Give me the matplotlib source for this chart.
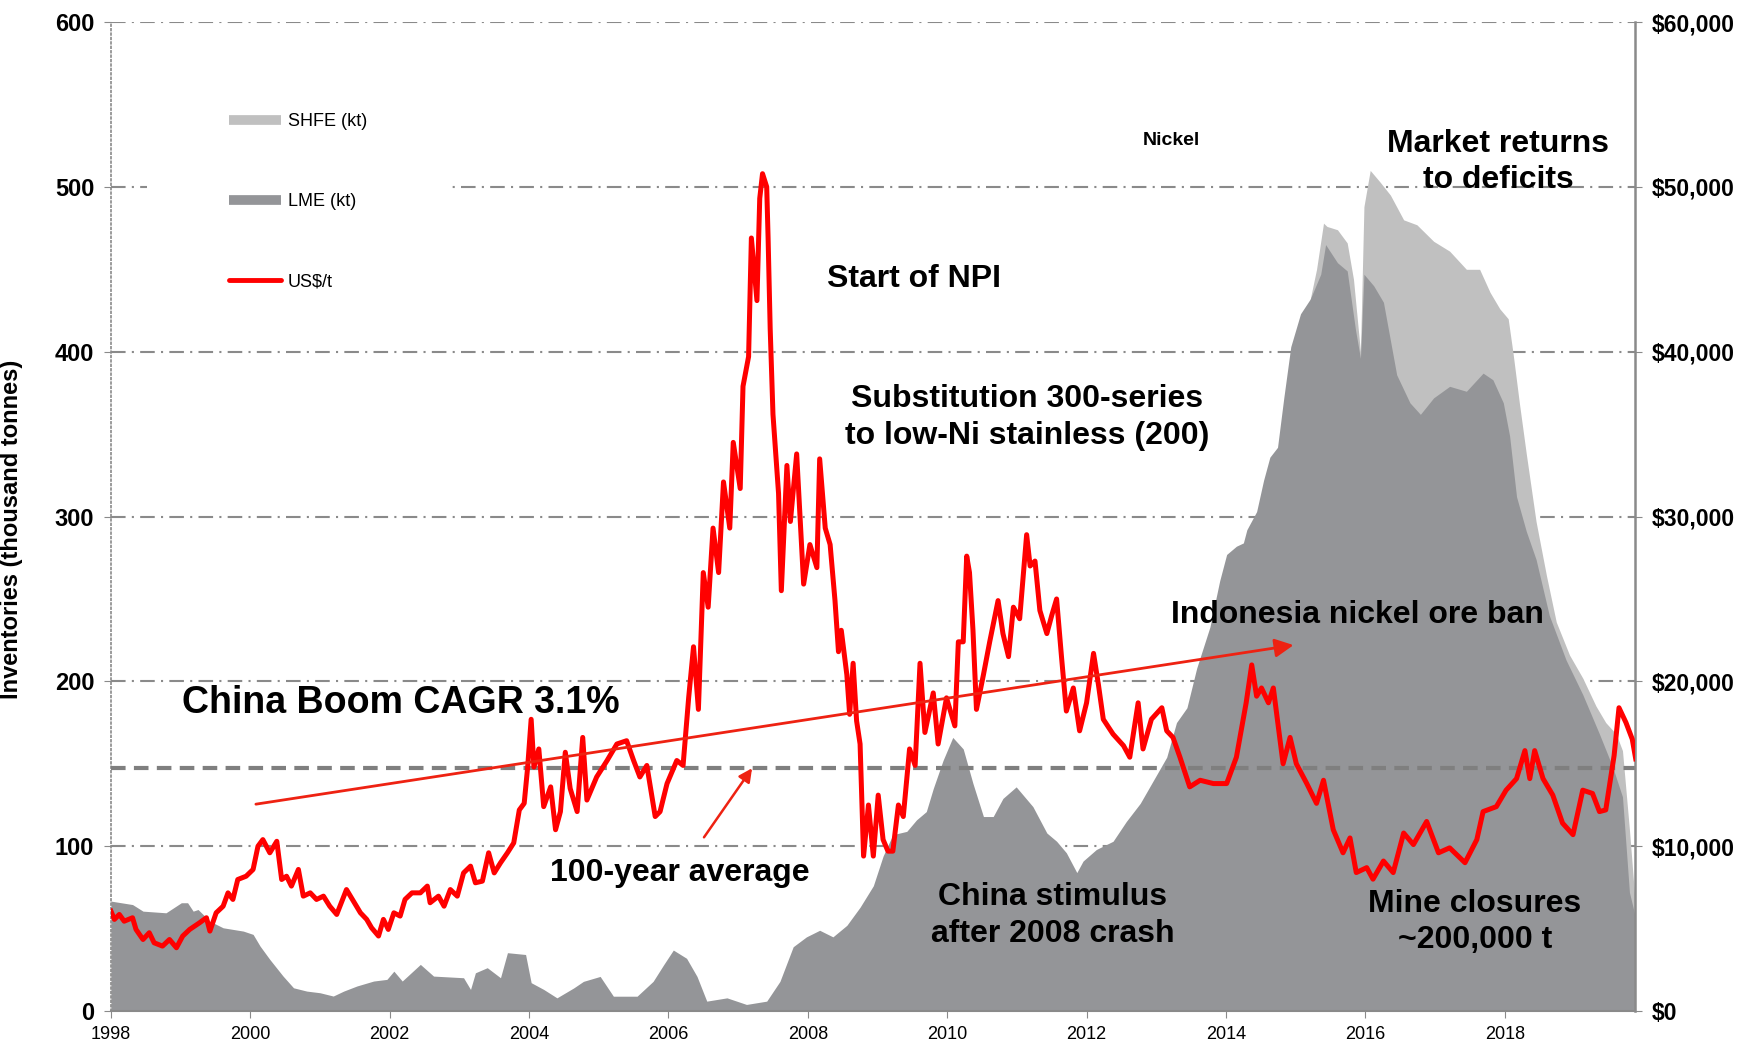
import matplotlib.pyplot as plt
from matplotlib.lines import Line2D
from matplotlib.patches import Rectangle
from matplotlib.ticker import FuncFormatter

plt.rcParams['font.family'] = ['Liberation Sans', 'DejaVu Sans']

# Nickel price, US$/t
price_year = [
    1998.00, 1998.05, 1998.12, 1998.19, 1998.31, 1998.36, 1998.46, 1998.55, 1998.62, 1998.74,
    1998.84, 1998.94, 1999.03, 1999.13, 1999.27, 1999.37, 1999.42, 1999.51, 1999.61, 1999.68,
    1999.75, 1999.82, 1999.94, 2000.04, 2000.11, 2000.18, 2000.28, 2000.38, 2000.45, 2000.52,
    2000.59, 2000.69, 2000.76, 2000.86, 2000.95, 2001.05, 2001.14, 2001.24, 2001.38, 2001.48,
    2001.58, 2001.67, 2001.74, 2001.84, 2001.91, 2001.98, 2002.06, 2002.15, 2002.22, 2002.32,
    2002.44, 2002.54, 2002.58, 2002.70, 2002.78, 2002.87, 2002.97, 2003.06, 2003.16, 2003.23,
    2003.33, 2003.42, 2003.50, 2003.59, 2003.69, 2003.78, 2003.86, 2003.93, 2003.98, 2004.03,
    2004.07, 2004.14, 2004.21, 2004.31, 2004.38, 2004.45, 2004.52, 2004.59, 2004.69, 2004.77,
    2004.83, 2004.97, 2005.12, 2005.26, 2005.40, 2005.50, 2005.59, 2005.69, 2005.81, 2005.88,
    2005.98, 2006.12, 2006.21, 2006.29, 2006.36, 2006.43, 2006.50, 2006.57, 2006.64, 2006.72,
    2006.79, 2006.88, 2006.93, 2007.03, 2007.07, 2007.15, 2007.19, 2007.27, 2007.31, 2007.35,
    2007.41, 2007.43, 2007.46, 2007.50, 2007.58, 2007.62, 2007.70, 2007.75, 2007.84, 2007.94,
    2008.03, 2008.13, 2008.17, 2008.25, 2008.32, 2008.39, 2008.44, 2008.48, 2008.56, 2008.60,
    2008.65, 2008.70, 2008.75, 2008.80, 2008.87, 2008.94, 2009.01, 2009.08, 2009.15, 2009.22,
    2009.30, 2009.37, 2009.46, 2009.54, 2009.61, 2009.68, 2009.80, 2009.87, 2009.99, 2010.11,
    2010.16, 2010.23, 2010.28, 2010.32, 2010.37, 2010.42, 2010.52, 2010.61, 2010.73, 2010.80,
    2010.88, 2010.95, 2011.04, 2011.14, 2011.19, 2011.26, 2011.33, 2011.43, 2011.50, 2011.57,
    2011.64, 2011.71, 2011.81, 2011.90, 2012.00, 2012.10, 2012.17, 2012.24, 2012.38, 2012.53,
    2012.62, 2012.74, 2012.81, 2012.93, 2013.08, 2013.15, 2013.24, 2013.34, 2013.48, 2013.63,
    2013.82, 2014.01, 2014.15, 2014.29, 2014.37, 2014.44, 2014.51, 2014.61, 2014.68, 2014.75,
    2014.82, 2014.92, 2015.01, 2015.16, 2015.30, 2015.40, 2015.54, 2015.68, 2015.78, 2015.87,
    2016.02, 2016.11, 2016.26, 2016.40, 2016.55, 2016.69, 2016.88, 2017.05, 2017.21, 2017.43,
    2017.60, 2017.69, 2017.88, 2018.02, 2018.17, 2018.29, 2018.36, 2018.43, 2018.55, 2018.69,
    2018.83, 2018.98, 2019.12, 2019.26, 2019.36, 2019.45, 2019.57, 2019.64, 2019.74, 2019.83,
    2019.88,
]
price_usd = [
    6060, 5560, 5860, 5450, 5660, 4950, 4340, 4750, 4140, 3940,
    4340, 3840, 4550, 4950, 5350, 5660, 4850, 5960, 6360, 7170,
    6770, 7980, 8180, 8590, 10000, 10400, 9600, 10300, 7980, 8180,
    7580, 8590, 6970, 7170, 6770, 6970, 6360, 5860, 7370, 6670,
    5960, 5560, 5050, 4550, 5560, 4950, 5960, 5760, 6770, 7170,
    7170, 7580, 6570, 6970, 6360, 7370, 6970, 8380, 8790, 7780,
    7880, 9600, 8380, 8990, 9600, 10200, 12200, 12600, 14800, 17700,
    14800, 15900, 12400, 13600, 11000, 12100, 15700, 13500, 12100, 16600,
    12800, 14200, 15200, 16200, 16400, 15200, 14200, 14900, 11800, 12100,
    13800, 15200, 14900, 19000, 22100, 18300, 26600, 24500, 29300, 26600,
    32100, 29300, 34500, 31700, 37900, 39700, 46900, 43100, 49300, 50800,
    50000, 46900, 41400, 36200, 31400, 25500, 33100, 29700, 33800, 25900,
    28300, 26900, 33500, 29300, 28300, 24900, 21800, 23100, 20400, 18000,
    21100, 17600, 16200, 9400, 12500, 9400, 13100, 10400, 9700, 9700,
    12500, 11800, 15900, 14900, 21100, 16900, 19300, 16200, 19000, 17300,
    22400, 22400, 27600, 26600, 23100, 18300, 20400, 22400, 24900, 22900,
    21500, 24500, 23800, 28900, 27000, 27300, 24300, 22900, 24000, 25000,
    21500, 18200, 19600, 17000, 18700, 21700, 19800, 17700, 16800, 16100,
    15400, 18700, 15900, 17700, 18400, 17000, 16600, 15400, 13600, 14000,
    13800, 13800, 15400, 18700, 21000, 19100, 19600, 18700, 19600, 17300,
    15000, 16600, 15000, 13800, 12600, 14000, 11000, 9600, 10500, 8400,
    8700, 8000, 9100, 8400, 10800, 10100, 11500, 9600, 9900, 9000,
    10400, 12100, 12400, 13400, 14100, 15800, 14100, 15800, 14100, 13100,
    11400, 10700, 13400, 13200, 12100, 12200, 15500, 18400, 17500, 16500,
    15300,
]

# LME nickel stocks, kt
lme_year = [
    1998.00, 1998.31, 1998.46, 1998.79, 1999.01, 1999.10, 1999.18, 1999.25, 1999.42, 1999.61,
    1999.90, 2000.04, 2000.14, 2000.28, 2000.47, 2000.62, 2000.81, 2001.00, 2001.19, 2001.34,
    2001.53, 2001.77, 2001.96, 2002.06, 2002.18, 2002.44, 2002.63, 2003.06, 2003.16, 2003.23,
    2003.40, 2003.59, 2003.69, 2003.95, 2004.03, 2004.21, 2004.40, 2004.64, 2004.78, 2005.02,
    2005.21, 2005.55, 2005.78, 2005.93, 2006.07, 2006.26, 2006.41, 2006.55, 2006.84, 2007.12,
    2007.41, 2007.60, 2007.79, 2007.98, 2008.17, 2008.36, 2008.56, 2008.75, 2008.94, 2009.08,
    2009.22, 2009.42, 2009.56, 2009.70, 2009.80, 2009.94, 2010.08, 2010.23, 2010.37, 2010.52,
    2010.66, 2010.80, 2010.99, 2011.09, 2011.23, 2011.43, 2011.57, 2011.71, 2011.86, 2011.95,
    2012.14, 2012.38, 2012.57, 2012.77, 2012.96, 2013.15, 2013.29, 2013.44, 2013.58, 2013.77,
    2013.91, 2014.01, 2014.15, 2014.25, 2014.30, 2014.44, 2014.54, 2014.63, 2014.74, 2014.83,
    2014.93, 2015.07, 2015.21, 2015.36, 2015.43, 2015.60, 2015.74, 2015.86, 2015.93, 2015.98,
    2016.12, 2016.26, 2016.45, 2016.64, 2016.79, 2016.98, 2017.21, 2017.45, 2017.69, 2017.83,
    2017.98, 2018.07, 2018.17, 2018.31, 2018.45, 2018.64, 2018.88, 2019.12, 2019.36, 2019.55,
    2019.69, 2019.79, 2019.87,
]
lme_kt = [
    66.7, 64.6, 60.6, 59.6, 65.7, 65.7, 60.6, 61.6, 54.5, 50.5,
    48.5, 46.5, 39.4, 31.3, 21.2, 14.1, 12.1, 11.1, 9.1, 12.1,
    15.2, 18.2, 19.2, 24.2, 18.2, 28.3, 21.2, 20.2, 13.1, 23.2,
    26.3, 20.2, 35.4, 34.3, 17.2, 13.1, 8, 14, 18, 21,
    9, 9, 18, 28, 37, 32, 21, 6, 8, 4,
    6, 18, 39, 45, 49, 45, 52, 63, 76, 94,
    107, 109, 116, 121, 135, 152, 166, 159, 138, 118,
    118, 129, 136, 131, 124, 108, 103, 96, 84, 91,
    98, 103, 115, 126, 140, 154, 175, 184, 208, 233,
    261, 277, 282, 284, 292, 303, 322, 336, 342, 372,
    403, 423, 432, 447, 465, 454, 449, 413, 396, 447,
    440, 430, 386, 369, 362, 372, 379, 376, 387, 383,
    369, 349, 312, 291, 274, 240, 213, 192, 168, 148,
    130, 72, 58,
]

# LME + SHFE combined stocks, kt (top of the light band, SHFE from 2015)
lme_shfe_year = [
    2015.21, 2015.30, 2015.40, 2015.45, 2015.60, 2015.74, 2015.83, 2015.93, 2015.98, 2016.07,
    2016.21, 2016.36, 2016.55, 2016.74, 2016.98, 2017.21, 2017.45, 2017.64, 2017.79, 2017.93,
    2018.05, 2018.12, 2018.21, 2018.31, 2018.45, 2018.60, 2018.74, 2018.93, 2019.12, 2019.31,
    2019.45, 2019.60, 2019.69, 2019.79, 2019.87,
]
lme_shfe_kt = [
    432, 450, 478, 476, 474, 466, 444, 400, 488, 510,
    503, 495, 480, 477, 467, 461, 450, 450, 436, 426,
    420, 399, 369, 338, 297, 264, 236, 216, 202, 185,
    175, 168, 158, 110, 67,
]

avg_100yr_usd = 14750
year_ticks = list(range(1998, 2019, 2))
kt_ticks = [0, 100, 200, 300, 400, 500, 600]

fig = plt.figure(figsize=(17.47, 10.45), dpi=100)
ax = fig.add_axes([0.0635, 0.0325, 0.8724, 0.9464])
ax2 = ax.twinx()

grid_gray = '#8a8a8a'
ax.fill_between(lme_shfe_year, 0, lme_shfe_kt, color='#c0c0c0', linewidth=0, zorder=1)
ax.fill_between(lme_year, 0, lme_kt, color='#949598', linewidth=0, zorder=1.2)

ax.set_xlim(1998.0, 2019.87)
ax.set_ylim(0, 600)
ax2.set_ylim(0, 60000)
ax.set_yticks(kt_ticks)
ax2.set_yticks([t * 100 for t in kt_ticks])
ax.set_xticks(year_ticks)

ax.grid(axis='y', color=grid_gray, linewidth=1.5, dashes=(7, 3, 1, 3))
ax.set_axisbelow(True)
# white box behind the legend hides the 500 gridline there
ax.add_patch(Rectangle((0.0236, 0.70), 0.199, 0.24, transform=ax.transAxes,
                       facecolor='white', edgecolor='none', zorder=1.5))

# price and 100-year average on the $ axis
ax2.axhline(avg_100yr_usd, color='#7f7f7f', linewidth=3, dashes=(3.5, 2), zorder=2)
ax2.plot(price_year, price_usd, color='#ff0000', linewidth=3.6, zorder=3)

ax2.annotate('', xy=(2014.97, 22200), xytext=(2000.08, 12550),
             arrowprops=dict(arrowstyle='-|>', color='#ee2212', lw=2, mutation_scale=28,
                             shrinkA=0, shrinkB=0), zorder=4)
ax2.annotate('', xy=(2007.2, 14730), xytext=(2006.51, 10540),
             arrowprops=dict(arrowstyle='-|>', color='#ee2212', lw=1.8, mutation_scale=20,
                             shrinkA=0, shrinkB=0), zorder=4)

# spines and ticks
for a in (ax, ax2):
    a.spines['top'].set_visible(False)
ax.spines['left'].set_linestyle(':')
ax.spines['left'].set_color(grid_gray)
ax.spines['left'].set_linewidth(1.2)
ax.spines['right'].set_visible(False)
ax.spines['bottom'].set_color(grid_gray)
ax.spines['bottom'].set_linewidth(1.5)
ax2.spines['left'].set_visible(False)
ax2.spines['bottom'].set_visible(False)
ax2.spines['right'].set_color(grid_gray)
ax2.spines['right'].set_linewidth(1.8)

ax.tick_params(axis='x', length=5, color=grid_gray, labelsize=13, pad=6)
ax.tick_params(axis='y', length=5, color=grid_gray, labelsize=17, pad=7)
ax2.tick_params(axis='y', length=5, color=grid_gray, labelsize=16.5, pad=7)
for lab in ax.get_yticklabels() + ax2.get_yticklabels():
    lab.set_fontweight('bold')
ax2.yaxis.set_major_formatter(FuncFormatter(lambda v, p: '$0' if v == 0 else f'${v:,.0f}'))

ax.set_ylabel('Inventories (thousand tonnes)', fontsize=17, fontweight='bold')
ax.yaxis.set_label_coords(-0.058, 0.487)

# legend
handles = [
    Line2D([], [], color='#c0c0c0', linewidth=7, solid_capstyle='butt'),
    Line2D([], [], color='#949598', linewidth=7, solid_capstyle='butt'),
    Line2D([], [], color='#ff0000', linewidth=3.5, solid_capstyle='round'),
]
ax2.legend(handles, ['SHFE (kt)', 'LME (kt)', 'US$/t'], loc='upper left',
           bbox_to_anchor=(0.0774, 0.908), frameon=False, fontsize=13,
           handlelength=2.9, handletextpad=0.35, labelspacing=3.5,
           borderpad=0, borderaxespad=0)

# annotations (positions in year / kt)
notes = [
    (2013.21, 528, 'Nickel', 14),
    (2017.91, 515, 'Market returns\nto deficits', 23),
    (2009.53, 444, 'Start of NPI', 23),
    (2011.15, 360, 'Substitution 300-series\nto low-Ni stainless (200)', 23),
    (2015.88, 240, 'Indonesia nickel ore ban', 23),
    (2002.16, 187, 'China Boom CAGR 3.1%', 27),
    (2006.17, 84, '100-year average', 23),
    (2011.51, 58, 'China stimulus\nafter 2008 crash', 23),
    (2017.57, 54, 'Mine closures\n~200,000 t', 23),
]
for x, y, s, fs in notes:
    ax.text(x, y, s, fontsize=fs, fontweight='bold', ha='center', va='center',
            multialignment='center', linespacing=1.28, zorder=5)

fig.savefig('out.png', dpi=100)
